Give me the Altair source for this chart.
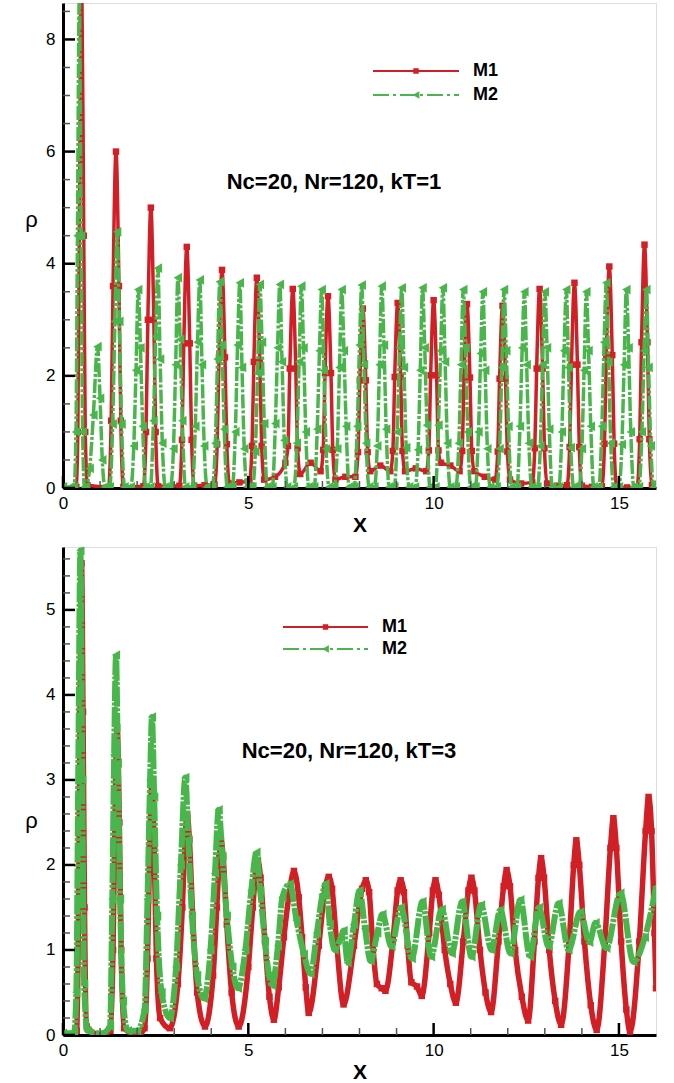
import altair as alt
import pandas as pd

RED = "#d21f26"
GREEN = "#48b64a"
FONT = "Liberation Sans"

# ---------------- kT = 1 (top panel) ----------------
T_M1_X = [0.0, 0.3,
          0.36, 0.4, 0.44, 0.5, 0.56, 0.6, 0.66,
          1.23, 1.3, 1.35, 1.43, 1.51, 1.56, 1.63,
          2.17, 2.24, 2.29, 2.37, 2.45, 2.5, 2.57,
          3.14, 3.21, 3.26, 3.34, 3.42, 3.47, 3.54, 3.82,
          4.09, 4.16, 4.21, 4.29, 4.37, 4.42, 4.49, 4.76,
          5.03, 5.1, 5.15, 5.23, 5.31, 5.36, 5.43, 5.72,
          6.0, 6.07, 6.12, 6.2, 6.28, 6.33, 6.4, 6.68,
          6.95, 7.02, 7.07, 7.15, 7.23, 7.28, 7.35, 7.62,
          7.89, 7.96, 8.01, 8.09, 8.17, 8.22, 8.29, 8.56,
          8.83, 8.9, 8.95, 9.03, 9.11, 9.16, 9.23, 9.52,
          9.8, 9.87, 9.92, 10.0, 10.08, 10.13, 10.2, 10.45,
          10.7, 10.77, 10.82, 10.9, 10.98, 11.03, 11.1, 11.38,
          11.66, 11.73, 11.78, 11.86, 11.94, 11.99, 12.06, 12.36,
          12.66, 12.73, 12.78, 12.86, 12.94, 12.99, 13.06, 13.33,
          13.6, 13.67, 13.72, 13.8, 13.88, 13.93, 14.0, 14.27,
          14.54, 14.61, 14.66, 14.74, 14.82, 14.87, 14.94, 15.22,
          15.49, 15.56, 15.61, 15.69, 15.77, 15.82, 15.89, 16.0]
T_M1_Y = [0.0, 0.0,
          0.02, 1.0, 4.5, 9.5, 4.5, 1.0, 0.05,
          0.02, 1.2, 3.6, 6.0, 3.6, 1.2, 0.02,
          0.03, 1.0, 3.0, 5.0, 3.0, 1.0, 0.03,
          0.04, 0.86, 2.58, 4.3, 2.58, 0.86, 0.04, 0.05,
          0.06, 0.78, 2.33, 3.89, 2.33, 0.78, 0.08, 0.1,
          0.12, 0.75, 2.25, 3.75, 2.25, 0.75, 0.15, 0.2,
          0.45, 0.75, 2.13, 3.55, 2.13, 0.71, 0.25, 0.45,
          0.3, 0.68, 2.05, 3.42, 2.05, 0.68, 0.15, 0.2,
          0.2, 0.64, 1.92, 3.2, 1.92, 0.64, 0.3, 0.4,
          0.3, 0.66, 1.98, 3.3, 1.98, 0.66, 0.3, 0.35,
          0.3, 0.67, 2.01, 3.35, 2.01, 0.67, 0.45, 0.4,
          0.3, 0.66, 1.97, 3.28, 1.97, 0.66, 0.3, 0.2,
          0.15, 0.65, 1.95, 3.25, 1.95, 0.65, 0.15, 0.08,
          0.1, 0.71, 2.13, 3.55, 2.13, 0.71, 0.08, 0.04,
          0.05, 0.73, 2.2, 3.66, 2.2, 0.73, 0.04, 0.02,
          0.03, 0.79, 2.37, 3.95, 2.37, 0.79, 0.02, 0.01,
          0.02, 0.87, 2.6, 4.34, 2.6, 0.87, 0.05, 0.02]

T_M2_X = [0.0, 0.2,
          0.3, 0.35, 0.39, 0.44, 0.49, 0.53, 0.58,
          0.62, 0.72, 0.82, 0.93, 1.0, 1.06, 1.13,
          1.26, 1.34, 1.4, 1.46, 1.52, 1.58, 1.66,
          1.83, 1.91, 1.97, 2.03, 2.09, 2.15, 2.23,
          2.36, 2.44, 2.5, 2.56, 2.62, 2.68, 2.76,
          2.9, 2.98, 3.04, 3.1, 3.16, 3.22, 3.3,
          3.49, 3.57, 3.63, 3.69, 3.75, 3.81, 3.89,
          4.03, 4.11, 4.17, 4.23, 4.29, 4.35, 4.43,
          4.57, 4.65, 4.71, 4.77, 4.83, 4.89, 4.97,
          5.11, 5.19, 5.25, 5.31, 5.37, 5.43, 5.51,
          5.65, 5.73, 5.79, 5.85, 5.91, 5.97, 6.05,
          6.23, 6.31, 6.37, 6.43, 6.49, 6.55, 6.63,
          6.78, 6.86, 6.92, 6.98, 7.04, 7.1, 7.18,
          7.32, 7.4, 7.46, 7.52, 7.58, 7.64, 7.72,
          7.86, 7.94, 8.0, 8.06, 8.12, 8.18, 8.26,
          8.4, 8.48, 8.54, 8.6, 8.66, 8.72, 8.8,
          8.94, 9.02, 9.08, 9.14, 9.2, 9.26, 9.34,
          9.5, 9.58, 9.64, 9.7, 9.76, 9.82, 9.9,
          10.05, 10.13, 10.19, 10.25, 10.31, 10.37, 10.45,
          10.6, 10.68, 10.74, 10.8, 10.86, 10.92, 11.0,
          11.13, 11.21, 11.27, 11.33, 11.39, 11.45, 11.53,
          11.7, 11.78, 11.84, 11.9, 11.96, 12.02, 12.1,
          12.25, 12.33, 12.39, 12.45, 12.51, 12.57, 12.65,
          12.8, 12.88, 12.94, 13.0, 13.06, 13.12, 13.2,
          13.38, 13.46, 13.52, 13.58, 13.64, 13.7, 13.78,
          13.92, 14.0, 14.06, 14.12, 14.18, 14.24, 14.32,
          14.46, 14.54, 14.6, 14.66, 14.72, 14.78, 14.86,
          15.0, 15.08, 15.14, 15.2, 15.26, 15.32, 15.4,
          15.54, 15.62, 15.68, 15.74, 15.8, 15.86, 15.94, 16.0]
T_M2_Y = [0.02, 0.02,
          0.02, 1.0, 4.5, 8.8, 4.5, 1.0, 0.02,
          0.02, 0.35, 1.3, 2.52, 1.6, 0.5, 0.02,
          0.02, 1.14, 2.97, 4.57, 2.97, 1.14, 0.02,
          0.02, 0.75, 2.1, 3.54, 2.5, 1.1, 0.02,
          0.02, 1.2, 2.7, 3.92, 2.3, 0.8, 0.02,
          0.02, 0.7, 2.2, 3.75, 2.65, 1.2, 0.02,
          0.02, 1.1, 2.6, 3.71, 2.2, 0.75, 0.02,
          0.02, 0.8, 2.3, 3.68, 2.55, 1.05, 0.02,
          0.02, 1.0, 2.55, 3.66, 2.15, 0.7, 0.02,
          0.02, 0.65, 2.05, 3.63, 2.6, 1.15, 0.02,
          0.02, 1.15, 2.5, 3.63, 2.25, 0.85, 0.02,
          0.02, 0.8, 2.25, 3.6, 2.5, 1.0, 0.02,
          0.02, 1.05, 2.45, 3.54, 2.1, 0.7, 0.02,
          0.02, 0.7, 2.15, 3.54, 2.45, 1.1, 0.02,
          0.02, 1.1, 2.55, 3.62, 2.2, 0.8, 0.02,
          0.02, 0.75, 2.2, 3.6, 2.55, 1.05, 0.02,
          0.02, 1.0, 2.5, 3.57, 2.15, 0.72, 0.02,
          0.02, 0.68, 2.1, 3.57, 2.5, 1.12, 0.02,
          0.02, 1.12, 2.45, 3.57, 2.25, 0.8, 0.02,
          0.02, 0.8, 2.2, 3.54, 2.5, 1.0, 0.02,
          0.02, 1.0, 2.4, 3.5, 2.1, 0.7, 0.02,
          0.02, 0.7, 2.15, 3.54, 2.45, 1.1, 0.02,
          0.02, 1.1, 2.5, 3.5, 2.2, 0.8, 0.02,
          0.02, 0.75, 2.2, 3.5, 2.5, 1.05, 0.02,
          0.02, 1.0, 2.45, 3.54, 2.15, 0.72, 0.02,
          0.02, 0.7, 2.1, 3.5, 2.45, 1.1, 0.02,
          0.02, 1.1, 2.6, 3.66, 2.25, 0.8, 0.02,
          0.02, 0.78, 2.2, 3.54, 2.5, 1.0, 0.02,
          0.02, 1.0, 2.45, 3.54, 2.15, 0.75, 0.02, 0.1]

# ---------------- kT = 3 (bottom panel) ----------------
B_M1_X = [0.0, 0.3,
          0.37, 0.42, 0.46, 0.5, 0.54, 0.58, 0.64, 1.0,
          1.28, 1.35, 1.4, 1.46, 1.52, 1.57, 1.65, 2.0,
          2.2, 2.28, 2.34, 2.4, 2.46, 2.52, 2.62, 2.88,
          3.1, 3.22, 3.3, 3.35, 3.41, 3.5, 3.62, 3.83,
          4.05, 4.15, 4.22, 4.26, 4.32, 4.42, 4.55, 4.74,
          5.0, 5.12, 5.2, 5.26, 5.33, 5.45, 5.57, 5.69,
          5.82, 5.96, 6.09, 6.23, 6.36, 6.45, 6.55, 6.63,
          6.9, 7.08, 7.17, 7.26, 7.38, 7.57,
          7.85, 8.07, 8.17, 8.26, 8.36, 8.47, 8.6, 8.7,
          8.9, 9.03, 9.11, 9.2, 9.3, 9.4, 9.55, 9.68,
          9.88, 9.98, 10.05, 10.14, 10.3, 10.45, 10.6,
          10.8, 10.94, 11.02, 11.1, 11.25, 11.4, 11.55,
          11.75, 11.89, 11.97, 12.06, 12.2, 12.38, 12.55,
          12.72, 12.83, 12.9, 12.98, 13.12, 13.28, 13.44,
          13.66, 13.78, 13.85, 13.93, 14.07, 14.24, 14.4,
          14.62, 14.77, 14.85, 14.93, 15.06, 15.2, 15.3,
          15.55, 15.72, 15.8, 15.88, 15.96, 16.0]
B_M1_Y = [0.0, 0.0,
          0.05, 1.5, 3.8, 5.55, 3.8, 1.5, 0.1, 0.0,
          0.05, 1.0, 2.5, 3.62, 2.5, 1.0, 0.08, 0.0,
          0.08, 0.9, 2.2, 3.0, 2.2, 0.9, 0.2, 0.08,
          0.6, 1.5, 2.35, 2.6, 2.3, 1.4, 0.5, 0.1,
          0.7, 1.5, 2.1, 2.3, 2.1, 1.3, 0.5, 0.1,
          0.8, 1.5, 1.9, 2.05, 1.85, 1.1, 0.45, 0.18,
          0.56, 1.15, 1.62, 1.93, 1.62, 1.15, 0.56, 0.26,
          1.05, 1.75, 1.86, 1.72, 1.1, 0.36,
          1.05, 1.72, 1.82, 1.68, 1.05, 0.6, 0.55, 0.52,
          1.1, 1.7, 1.82, 1.68, 1.05, 0.62, 0.57, 0.46,
          1.2, 1.7, 1.82, 1.65, 1.0, 0.6, 0.38,
          1.1, 1.7, 1.85, 1.7, 1.0, 0.5, 0.27,
          1.1, 1.75, 1.94, 1.75, 1.0, 0.45, 0.17,
          1.1, 1.85, 2.08, 1.85, 1.0, 0.4, 0.12,
          1.1, 2.0, 2.29, 2.0, 1.1, 0.35, 0.06,
          1.1, 2.2, 2.55, 2.2, 1.1, 0.3, 0.04,
          1.1, 2.4, 2.8, 2.4, 1.2, 0.55]

B_M2_X = [0.0, 0.3, 0.36, 0.41, 0.47, 0.52, 0.57, 0.66, 1.05,
          1.27, 1.33, 1.38, 1.43, 1.48, 1.54, 1.62, 1.75, 2.0,
          2.2, 2.28, 2.35, 2.4, 2.46, 2.54, 2.66, 2.88,
          3.05, 3.18, 3.3, 3.38, 3.48, 3.62, 3.8,
          3.98, 4.1, 4.2, 4.3, 4.42, 4.57, 4.72,
          4.92, 5.08, 5.22, 5.32, 5.45, 5.56, 5.65,
          5.8, 5.92, 6.12, 6.3, 6.5, 6.68,
          6.85, 7.0, 7.08, 7.2, 7.33, 7.5, 7.57, 7.68,
          7.85, 8.0, 8.15, 8.3, 8.48, 8.62, 8.86,
          9.12, 9.41, 9.7, 9.93, 10.22, 10.49, 10.77, 11.02,
          11.28, 11.56, 11.8, 12.07, 12.34, 12.6, 12.84, 13.1,
          13.37, 13.64, 13.96, 14.2, 14.37, 14.66, 15.04, 15.39, 15.7, 16.0]
B_M2_Y = [0.02, 0.02, 0.5, 3.0, 5.7, 3.0, 0.6, 0.05, 0.02,
          0.1, 1.6, 3.3, 4.47, 3.2, 1.6, 0.4, 0.05, 0.05,
          0.3, 1.6, 3.0, 3.74, 2.8, 1.4, 0.5, 0.2,
          0.8, 2.0, 3.03, 2.3, 1.4, 0.7, 0.43,
          1.0, 1.9, 2.65, 2.1, 1.4, 0.8, 0.55,
          1.0, 1.7, 2.15, 1.7, 1.1, 0.7, 0.58,
          1.05, 1.62, 1.78, 1.35, 0.95, 0.72,
          1.2, 1.65, 1.78, 1.3, 1.0, 1.15, 1.23, 0.85,
          1.3, 1.7, 1.25, 0.87, 1.2, 1.42, 1.04,
          1.5, 0.9, 1.57, 0.92, 1.48, 0.96, 1.57, 0.92,
          1.53, 1.0, 1.47, 0.96, 1.59, 0.92, 1.5, 1.04,
          1.55, 1.0, 1.45, 1.09, 1.32, 1.02, 1.67, 0.86, 1.15, 1.74]

SERIES = ["M1", "M2"]
TOP_NOTE = "Nc=20, Nr=120, kT=1"
BOT_NOTE = "Nc=20, Nr=120, kT=3"

X_MAJOR = [0, 5, 10, 15]
X_MINOR = [1, 2, 3, 4, 6, 7, 8, 9, 11, 12, 13, 14]
TOP_Y_MAJOR = [0, 2, 4, 6, 8]
TOP_Y_MINOR = [0.5, 1, 1.5, 2.5, 3, 3.5, 4.5, 5, 5.5, 6.5, 7, 7.5, 8.5]
BOT_Y_MAJOR = [0, 1, 2, 3, 4, 5]
BOT_Y_MINOR = [0.2, 0.4, 0.6, 0.8, 1.2, 1.4, 1.6, 1.8, 2.2, 2.4, 2.6, 2.8,
               3.2, 3.4, 3.6, 3.8, 4.2, 4.4, 4.6, 4.8, 5.2, 5.4, 5.6]

for a, b in [(T_M1_X, T_M1_Y), (T_M2_X, T_M2_Y), (B_M1_X, B_M1_Y), (B_M2_X, B_M2_Y)]:
    assert len(a) == len(b), (len(a), len(b))

W = 593


def panel(m1x, m1y, m2x, m2y, ymax, ymaj, ymin, H, note, note_xy, leg_xy,
          rho_y, lw1, lw2, sq, tri, dash):
    xs = alt.Scale(domain=[0, 16], nice=False, zero=False)
    ys = alt.Scale(domain=[0, ymax], nice=False, zero=False)
    xaxis = alt.Axis(values=X_MAJOR, format="d", ticks=False, tickSize=0,
                     grid=False, domainColor="black", domainWidth=3,
                     labelFont=FONT, labelFontSize=17, labelColor="black",
                     labelPadding=7, labelFlush=False, title="X",
                     titleFont=FONT, titleFontSize=21, titleFontWeight="bold",
                     titleColor="black", titlePadding=3)
    yaxis = alt.Axis(values=ymaj, format="d", ticks=False, tickSize=0,
                     grid=False, domainColor="black", domainWidth=3,
                     labelFont=FONT, labelFontSize=17, labelColor="black",
                     labelPadding=8, labelFlush=False, title="ρ",
                     titleFont=FONT, titleFontSize=22, titleFontWeight="normal",
                     titleColor="black", titleAngle=0, titleAlign="center",
                     titleBaseline="middle", titleX=-32, titleY=rho_y)
    X = alt.X("x:Q", scale=xs, axis=xaxis)
    Y = alt.Y("y:Q", scale=ys, axis=yaxis)
    d1 = pd.DataFrame({"x": m1x, "y": m1y})
    d2 = pd.DataFrame({"x": m2x, "y": m2y})
    line1 = alt.Chart(d1).mark_line(color=RED, strokeWidth=lw1, interpolate="monotone",
                                    clip=True).encode(x=X, y=Y)
    pts1 = alt.Chart(d1).mark_point(shape="square", filled=True, size=sq, opacity=1,
                                    color=RED, clip=True).encode(x=X, y=Y)
    line2 = alt.Chart(d2).mark_line(color=GREEN, strokeWidth=lw2, interpolate="monotone",
                                    strokeDash=dash, clip=True).encode(x=X, y=Y)
    pts2 = alt.Chart(d2).mark_point(shape="triangle-left", filled=True, size=tri,
                                    opacity=1, color=GREEN, clip=True).encode(x=X, y=Y)

    # inward ticks
    xmaj = alt.Chart(pd.DataFrame({"x": X_MAJOR})).mark_rule(
        color="black", strokeWidth=2.5).encode(
        x=X, y=alt.value(H), y2=alt.value(H - 12))
    xmin = alt.Chart(pd.DataFrame({"x": X_MINOR})).mark_rule(
        color="#555", strokeWidth=1.5).encode(
        x=X, y=alt.value(H), y2=alt.value(H - 7))
    ymj = alt.Chart(pd.DataFrame({"y": ymaj})).mark_rule(
        color="black", strokeWidth=2.5).encode(
        y=Y, x=alt.value(0), x2=alt.value(12))
    ymn = alt.Chart(pd.DataFrame({"y": ymin})).mark_rule(
        color="#555", strokeWidth=1.5).encode(
        y=Y, x=alt.value(0), x2=alt.value(7))

    # legend
    lx0, lx1, ly, lgap, ltx = leg_xy
    leg = pd.DataFrame({"s": SERIES})
    lr1 = alt.Chart(leg).transform_filter(alt.datum.s == "M1").mark_rule(
        color=RED, strokeWidth=2).encode(
        x=alt.value(lx0), x2=alt.value(lx1), y=alt.value(ly))
    lr2 = alt.Chart(leg).transform_filter(alt.datum.s == "M2").mark_rule(
        color=GREEN, strokeWidth=2, strokeDash=[16, 4, 3, 4]).encode(
        x=alt.value(lx0), x2=alt.value(lx1), y=alt.value(ly + lgap))
    lp1 = alt.Chart(leg).transform_filter(alt.datum.s == "M1").mark_point(
        shape="square", filled=True, size=30, opacity=1, color=RED).encode(
        x=alt.value((lx0 + lx1) / 2), y=alt.value(ly))
    lp2 = alt.Chart(leg).transform_filter(alt.datum.s == "M2").mark_point(
        shape="triangle-left", filled=True, size=60, opacity=1, color=GREEN).encode(
        x=alt.value((lx0 + lx1) / 2), y=alt.value(ly + lgap))
    lt1 = alt.Chart(leg).transform_filter(alt.datum.s == "M1").mark_text(
        align="left", baseline="middle", font=FONT, fontSize=18,
        fontWeight="bold", color="black").encode(
        x=alt.value(ltx), y=alt.value(ly), text="s:N")
    lt2 = alt.Chart(leg).transform_filter(alt.datum.s == "M2").mark_text(
        align="left", baseline="middle", font=FONT, fontSize=18,
        fontWeight="bold", color="black").encode(
        x=alt.value(ltx), y=alt.value(ly + lgap), text="s:N")

    nt = alt.Chart(pd.DataFrame({"t": [note]})).mark_text(
        align="center", baseline="middle", font=FONT, fontSize=22,
        fontWeight="bold", color="black").encode(
        x=alt.value(note_xy[0]), y=alt.value(note_xy[1]), text="t:N")

    return alt.layer(line1, pts1, line2, pts2, xmaj, xmin, ymj, ymn,
                     lr1, lr2, lp1, lp2, lt1, lt2, nt).properties(width=W, height=H)


top = panel(T_M1_X, T_M1_Y, T_M2_X, T_M2_Y, 8.65, TOP_Y_MAJOR, TOP_Y_MINOR, 485,
            TOP_NOTE, (271, 179), (310, 396, 68, 24, 410), 216, 3.5, 3.5, 42, 95,
            [14, 2, 3, 2])
bot = panel(B_M1_X, B_M1_Y, B_M2_X, B_M2_Y, 5.74, BOT_Y_MAJOR, BOT_Y_MINOR, 488,
            BOT_NOTE, (286, 204), (220, 305, 80, 22, 319), 273, 5.5, 6, 42, 90,
            [20, 1.5, 3, 1.5])

chart = alt.vconcat(top, bot, spacing=59, bounds="flush").properties(
    padding={"left": 24, "top": 2, "right": 10, "bottom": 5}
).configure_view(stroke="black", strokeWidth=2).configure(background="white")

chart.save("out.html", embed_options={"renderer": "svg", "actions": False})
